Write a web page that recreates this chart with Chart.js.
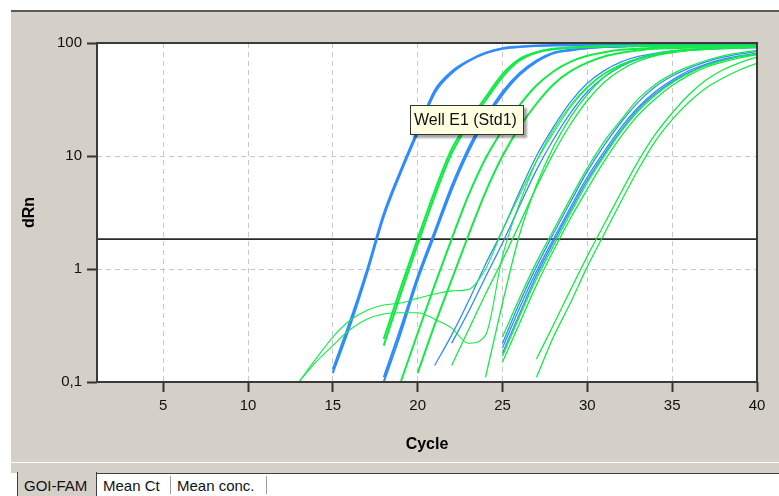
<!DOCTYPE html>
<html>
<head>
<meta charset="utf-8">
<title>Amplification plot</title>
<script src="https://cdn.jsdelivr.net/npm/chart.js@4.4.1/dist/chart.umd.min.js"></script>
<style>
  html, body { margin: 0; padding: 0; background: #fff; }
  body { width: 779px; height: 496px; position: relative; overflow: hidden; font-family: "Liberation Sans", Arial, sans-serif; }
  #panel { position: absolute; left: 11px; top: 10px; width: 768px; height: 450px; background: #d4d0c8; border-top: 2px solid #5a5a5a; }
  #chart { position: absolute; left: 0; top: 0; }
  #strip { position: absolute; left: 11px; top: 462px; width: 768px; height: 10px; background: #d4d0c8; border-top: 1px solid #fff; }
  #tabs { position: absolute; left: 0; top: 473px; width: 779px; height: 23px; background: #fff; }
  #tabline { position: absolute; left: 96px; top: 0; right: 0; border-top: 1px solid #404040; }
  #tabs span { position: absolute; top: 4px; font-size: 15px; color: #111; white-space: nowrap; }
  #goi { position: absolute; left: 17px; top: -1px; width: 78px; height: 24px; background: #d4d0c8; border-left: 1px solid #404040; border-right: 1px solid #404040; }
  .sep { position: absolute; top: 3px; width: 1px; height: 18px; background: #a0a0a0; }
  #tip { position: absolute; left: 410px; top: 105px; width: 112px; height: 28px; background: #ffffe1; border: 1px solid #333;
         box-shadow: 3px 3px 2px rgba(0,0,0,0.35); font-size: 16px; line-height: 28px; color: #111; box-sizing: content-box; }
  #tip span { position: absolute; left: 3px; top: 0; white-space: nowrap; }
</style>
</head>
<body>
<div id="panel"><canvas id="chart" width="768" height="450"></canvas></div>
<div id="strip"></div>
<div id="tabs">
  <div id="tabline"></div>
  <div id="goi"></div>
  <span style="left:24px">GOI-FAM</span>
  <span style="left:103px">Mean Ct</span>
  <div class="sep" style="left:170px"></div>
  <span style="left:177px">Mean conc.</span>
  <div class="sep" style="left:266px"></div>
</div>
<div id="tip"><span>Well E1 (Std1)</span></div>
<script>
// axis ticks and threshold
const xTicks = [5, 10, 15, 20, 25, 30, 35, 40];
const yTicks = [0.1, 1, 10, 100];
const threshold = 1.84;

// dRn per cycle, each list starts at the cycle given in the table below
const std1a = [0.13, 0.34, 0.97, 3.1, 7.5, 17, 38, 56, 70, 82, 90, 93, 95, 96, 96, 96, 97, 97, 97, 97, 97, 97, 97, 97, 97, 97];
const std1b = [0.12, 0.31, 0.9, 2.9, 7.1, 16, 36, 54, 69, 81, 89, 92, 94, 95, 95, 96, 96, 96, 96, 96, 96, 96, 96, 96, 96, 96];
const smpB1 = [0.24, 0.68, 1.85, 4.9, 11.5, 20, 33, 53, 72, 83, 89, 91, 93, 94, 94, 95, 95, 95, 95, 95, 95, 95, 95];
const smpB2 = [0.21, 0.6, 1.65, 4.4, 10.5, 19, 31, 50, 70, 82, 88, 91, 92, 93, 94, 94, 94, 94, 94, 94, 94, 94, 94];
const std2a = [0.1, 0.27, 0.8, 2.0, 5.0, 11, 21, 35, 52, 68, 81, 86, 90, 92, 93, 94, 94, 95, 95, 95, 95, 95, 95];
const std2b = [0.11, 0.3, 0.86, 2.15, 5.4, 11.8, 22, 37, 54, 70, 82, 87, 90, 92, 93, 94, 94, 94, 94, 94, 94, 94, 94];
const smpD1 = [0.1, 0.27, 0.72, 1.84, 4.5, 9.5, 17, 28, 42, 56, 68, 77, 83, 87, 89, 91, 92, 93, 93, 94, 94, 94];
const smpD2 = [0.12, 0.32, 0.8, 2.0, 4.8, 10, 18, 29, 43, 56, 67, 76, 82, 86, 89, 90, 91, 92, 92, 93, 93];
const std3a = [0.14, 0.26, 0.52, 1.1, 2.2, 4.8, 10, 18, 30, 44, 57, 68, 76, 81, 85, 87, 89, 90, 91, 92];
const std3b = [0.22, 0.42, 0.85, 1.7, 3.6, 7.5, 14, 24, 37, 50, 62, 72, 78, 83, 86, 88, 89, 90, 91];
const smpE1 = [0.14, 0.29, 0.6, 1.2, 2.5, 5.3, 10.5, 19, 31, 45, 58, 69, 77, 82, 86, 88, 90, 91, 92];
const smpE2 = [0.11, 0.5, 2.0, 5.5, 12, 22, 35, 50, 63, 73, 80, 85, 88, 90, 91, 92, 93];
const std4a = [0.22, 0.5, 1.05, 2.05, 3.9, 7.3, 12.5, 20, 30, 41, 51, 60, 68, 75, 80, 84];
const std4b = [0.2, 0.45, 0.95, 1.84, 3.5, 6.5, 11, 18, 27, 37, 47, 57, 65, 72, 77, 81];
const std4c = [0.18, 0.4, 0.88, 1.72, 3.3, 6.1, 10.4, 17, 26, 35.5, 45.5, 55, 63.5, 70.5, 76, 80];
const smpF1 = [0.25, 0.55, 1.15, 2.2, 4.2, 7.8, 13.5, 21, 32, 43, 53, 62, 70, 77, 82, 86];
const smpF2 = [0.15, 0.33, 0.72, 1.45, 2.8, 5.1, 9, 15, 23, 32, 42, 52, 61, 68, 74, 79];
const smpF3 = [0.17, 0.38, 0.82, 1.6, 3.1, 5.8, 10, 16.5, 25, 34.5, 44.5, 54, 63, 70, 76, 80];
const smpG1 = [0.16, 0.32, 0.65, 1.3, 2.5, 4.8, 9, 15.5, 24, 35, 47, 58, 67, 75];
const smpG2 = [0.11, 0.25, 0.5, 1.05, 2.05, 4.0, 7.6, 13.5, 21, 30, 40, 49, 58, 66];
const oddA = [0.1, 0.16, 0.25, 0.35, 0.43, 0.48, 0.5, 0.55, 0.6, 0.64, 0.66, 1.0, 2.2, 4.5, 9, 16, 27, 40, 53, 64, 73, 79, 84, 87, 89, 90, 91, 92];
const oddB = [0.1, 0.15, 0.21, 0.29, 0.36, 0.4, 0.41, 0.41, 0.36, 0.3, 0.22, 0.26, 1.3, 3.8, 9, 17, 28, 41, 54, 65, 73, 79, 83, 86, 88, 89, 90, 91];

// name, first cycle, values, kind
const wells = [
  ['Well A13', 13, oddA, 'odd'],
  ['Well B13', 13, oddB, 'odd'],
  ['Well C1', 18, smpB1, 'smp'],
  ['Well D1', 18, smpB2, 'smp'],
  ['Well C2', 19, smpD1, 'smp'],
  ['Well D2', 20, smpD2, 'smp'],
  ['Well C3', 22, smpE1, 'thin'],
  ['Well D3', 24, smpE2, 'thin'],
  ['Well C4', 25, smpF1, 'thin'],
  ['Well D4', 25, smpF2, 'thin'],
  ['Well C5', 25, smpF3, 'thin'],
  ['Well C6', 27, smpG1, 'thin'],
  ['Well D6', 27, smpG2, 'thin'],
  ['Well E1 (Std1)', 15, std1a, 'std'],
  ['Well F1 (Std1)', 15, std1b, 'std'],
  ['Well E2 (Std2)', 18, std2a, 'std'],
  ['Well F2 (Std2)', 18, std2b, 'std'],
  ['Well E3 (Std3)', 21, std3a, 'stdthin'],
  ['Well F3 (Std3)', 22, std3b, 'stdthin'],
  ['Well E4 (Std4)', 25, std4a, 'stdthin'],
  ['Well F4 (Std4)', 25, std4b, 'stdthin'],
  ['Well G4 (Std4)', 25, std4c, 'stdthin']
];

const BLUE = '#2e8cff';
const GREEN = '#14ea46';
const look = {
  std: [BLUE, 2], stdthin: [BLUE, 1.3],
  smp: [GREEN, 2], thin: [GREEN, 1.3], odd: [GREEN, 1.1]
};
const FONT = '"Liberation Sans", Arial, sans-serif';

const datasets = wells.map(w => ({
  label: w[0],
  data: w[2].map((v, i) => ({ x: w[1] + i, y: v })),
  borderColor: look[w[3]][0],
  borderWidth: look[w[3]][1],
  pointRadius: 0,
  cubicInterpolationMode: 'monotone',
  fill: false
}));

datasets.push({
  label: 'Threshold',
  data: [{ x: 1.1, y: threshold }, { x: 40, y: threshold }],
  borderColor: '#2a2a2a',
  borderWidth: 1.6,
  pointRadius: 0
});

const plotBg = {
  id: 'plotBg',
  beforeDraw(chart) {
    const { ctx, chartArea: a } = chart;
    ctx.save();
    ctx.fillStyle = '#fff';
    ctx.fillRect(a.left, a.top, a.right - a.left, a.bottom - a.top);
    ctx.restore();
  },
  afterDatasetsDraw(chart) {
    const { ctx, chartArea: a } = chart;
    ctx.save();
    ctx.strokeStyle = '#3a3a3a';
    ctx.lineWidth = 2;
    ctx.strokeRect(a.left, a.top, a.right - a.left, a.bottom - a.top);
    ctx.restore();
  }
};

new Chart(document.getElementById('chart'), {
  type: 'line',
  data: { datasets: datasets },
  plugins: [plotBg],
  options: {
    responsive: false,
    animation: false,
    events: [],
    layout: { padding: { left: 0, top: 31, right: 22, bottom: 0 } },
    plugins: { legend: { display: false }, tooltip: { enabled: false } },
    scales: {
      x: {
        type: 'linear',
        min: 1.1,
        max: 40,
        afterBuildTicks: s => { s.ticks = xTicks.map(v => ({ value: v })); },
        afterFit: s => { s.height = 80; },
        grid: { color: '#c8c8c8', lineWidth: 1, tickLength: 10, tickColor: '#333', tickWidth: 2 },
        border: { display: false, dash: [5, 4] },
        ticks: { color: '#111', font: { family: FONT, size: 15 }, padding: 5, maxRotation: 0, autoSkip: false },
        title: { display: true, text: 'Cycle', color: '#000', font: { family: FONT, size: 16, weight: 'bold' }, padding: { top: 0, bottom: 8 } }
      },
      y: {
        type: 'logarithmic',
        min: 0.1,
        max: 100,
        afterBuildTicks: s => { s.ticks = yTicks.map(v => ({ value: v })); },
        afterFit: s => { s.width = 86; },
        grid: { color: '#c8c8c8', lineWidth: 1, tickLength: 10, tickColor: '#333', tickWidth: 2 },
        border: { display: false, dash: [5, 4] },
        ticks: { color: '#111', font: { family: FONT, size: 15 }, padding: 5, callback: v => String(v).replace('.', ',') },
        title: { display: true, text: 'dRn', color: '#000', font: { family: FONT, size: 16, weight: 'bold' }, padding: { top: 9, bottom: 0 } }
      }
    }
  }
});
</script>
</body>
</html>
